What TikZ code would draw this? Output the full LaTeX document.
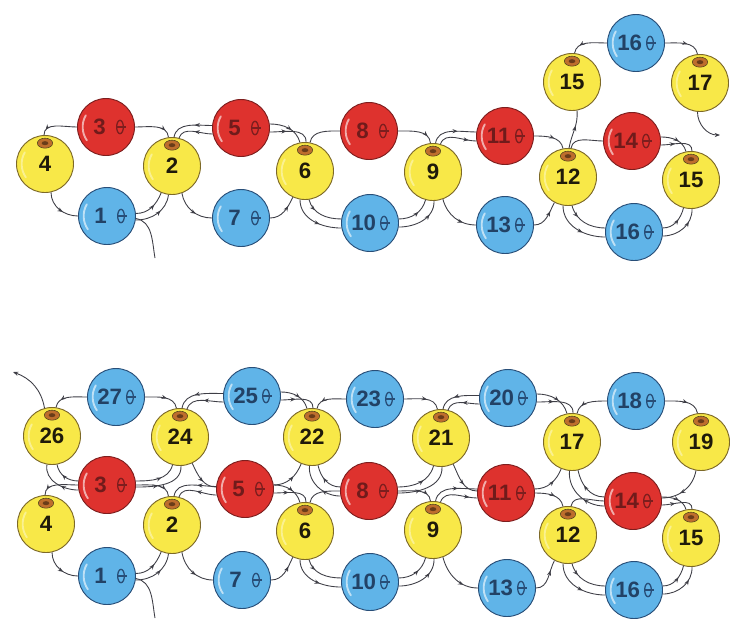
\documentclass[tikz,border=0pt]{standalone}
\usepackage{fontspec}
\setmainfont{Liberation Sans}
\usetikzlibrary{
  arrows.meta,
  calc,
  decorations.markings
}

\definecolor{beadyellow}{RGB}{248,232,72}
\definecolor{yellowedge}{RGB}{125,105,40}
\definecolor{beadred}{RGB}{222,50,46}
\definecolor{rededge}{RGB}{125,30,30}
\definecolor{beadblue}{RGB}{96,180,232}
\definecolor{blueedge}{RGB}{40,78,120}
\definecolor{holebrown}{RGB}{190,110,45}
\definecolor{threadgray}{RGB}{62,62,70}

\tikzset{
  bead/.style={circle, minimum size=1.71cm, inner sep=0pt, line width=.8pt,
    font=\fontsize{19}{20}\selectfont\bfseries},
  gloss/.style={white, opacity=.6, line width=1.6pt, line cap=round},
  ybead/.style={bead, fill=beadyellow, draw=yellowedge, text=black!75!yellowedge,
    path picture={
      \draw[gloss, opacity=.4] ([shift={(150:.7cm)}]path picture bounding box.center)
        arc [start angle=150, end angle=215, radius=.7cm];
      \filldraw[fill=holebrown, draw=yellowedge!70!black, line width=.5pt]
        ([yshift=-.23cm]path picture bounding box.north) ellipse [x radius=.23cm, y radius=.15cm];
      \fill[holebrown!55!black] ([yshift=-.23cm]path picture bounding box.north)
        ellipse [x radius=.1cm, y radius=.06cm];
    }},
  sidehole/.style={execute at end node={\hspace{.38cm}},
    path picture={
      \draw[gloss] ([shift={(150:.7cm)}]path picture bounding box.center)
        arc [start angle=150, end angle=215, radius=.7cm];
      \draw[#1, line width=1.1pt] ([xshift=.42cm]path picture bounding box.center)
        ellipse [x radius=.1cm, y radius=.2cm];
      \draw[#1, line width=1.1pt] ([xshift=.3cm]path picture bounding box.center)
        -- ([xshift=.6cm]path picture bounding box.center);
    }},
  rbead/.style={bead, fill=beadred, draw=rededge, text=rededge!90!black, sidehole=rededge},
  bbead/.style={bead, fill=beadblue, draw=blueedge, text=blueedge!85!black, sidehole=blueedge},
  thread/.style={draw=threadgray, line width=.75pt},
  arr/.style={postaction={decorate, decoration={markings,
    mark=at position #1 with {\arrow{Stealth[length=4.5pt, width=3.5pt]}}}}},
  arr/.default=.6
}

\begin{document}
\begin{tikzpicture}[x=0.03cm, y=0.03cm]
  \useasboundingbox (0,0) rectangle (738,-630);

  % first pattern
  \node[ybead] (a4)   at (45,-164)  {4};
  \node[rbead] (a3)   at (106,-127) {3};
  \node[ybead] (a2)   at (172,-166) {2};
  \node[bbead] (a1)   at (107,-216) {1};
  \node[rbead] (a5)   at (241,-128) {5};
  \node[bbead] (a7)   at (241,-218) {7};
  \node[ybead] (a6)   at (305,-171) {6};
  \node[rbead] (a8)   at (369,-131) {8};
  \node[bbead] (a10)  at (370,-223) {10};
  \node[ybead] (a9)   at (433,-172) {9};
  \node[rbead] (a11)  at (505,-136) {11};
  \node[bbead] (a13)  at (505,-225) {13};
  \node[ybead] (a12)  at (568,-177) {12};
  \node[rbead] (a14)  at (632,-141) {14};
  \node[bbead] (a16)  at (634,-232) {16};
  \node[ybead] (a15)  at (691,-180) {15};
  \node[ybead] (a15t) at (572,-82)  {15};
  \node[bbead] (a16t) at (636,-43)  {16};
  \node[ybead] (a17)  at (700,-83)  {17};

  % second pattern
  \node[ybead] (b4)  at (46,-524)  {4};
  \node[rbead] (b3)  at (107,-485) {3};
  \node[ybead] (b2)  at (172,-525) {2};
  \node[bbead] (b1)  at (107,-576) {1};
  \node[rbead] (b5)  at (245,-489) {5};
  \node[bbead] (b7)  at (242,-580) {7};
  \node[ybead] (b6)  at (305,-531) {6};
  \node[rbead] (b8)  at (369,-491) {8};
  \node[bbead] (b10) at (370,-582) {10};
  \node[ybead] (b9)  at (433,-530) {9};
  \node[rbead] (b11) at (506,-493) {11};
  \node[bbead] (b13) at (507,-588) {13};
  \node[ybead] (b12) at (568,-535) {12};
  \node[rbead] (b14) at (633,-501) {14};
  \node[bbead] (b16) at (634,-590) {16};
  \node[ybead] (b15) at (691,-538) {15};
  \node[ybead] (b26) at (52,-436)  {26};
  \node[bbead] (b27) at (116,-397) {27};
  \node[ybead] (b24) at (180,-437) {24};
  \node[bbead] (b25) at (252,-396) {25};
  \node[ybead] (b22) at (312,-437) {22};
  \node[bbead] (b23) at (375,-399) {23};
  \node[ybead] (b21) at (441,-438) {21};
  \node[bbead] (b20) at (508,-398) {20};
  \node[ybead] (b17) at (572,-442) {17};
  \node[bbead] (b18) at (636,-401) {18};
  \node[ybead] (b19) at (701,-442) {19};

  % thread through the first row, same in both
  \foreach \p in {a,b} {
    \coordinate (\p tail) at ($(\p1)+(48,-42)$);
    \draw[thread] (\p tail) to[out=100,in=-10] (\p1.-5);
    \draw[thread, arr] (\p1.5) to[out=0,in=-112] (\p2.-112);
    \draw[thread, arr] (\p1.-8) to[out=0,in=-97] (\p2.-97);
    \draw[thread, arr] (\p4.-78) to[out=-90,in=180] (\p1.180);
    \draw[thread, arr=.85] (\p3.180) to[out=180,in=90] (\p4.92);
    \draw[thread, arr=.8] (\p3.0) to[out=0,in=95] (\p2.97);
    \draw[thread, arr] (\p2.-70) to[out=-80,in=180] (\p7.180);
    \draw[thread, arr=.4] (\p5.175) to[out=180,in=80] (\p2.86);
    \draw[thread, arr=.5] (\p5.192) to[out=180,in=70] (\p2.76);
    \draw[thread, arr] (\p5.8) to[out=0,in=105] (\p6.100);
    \draw[thread, arr=.4] (\p5.-8) to[out=0,in=88] (\p6.88);
    \draw[thread, arr=.7] (\p7.0) to[out=0,in=-115] (\p6.-115);
    \draw[thread] (\p6.80) to[out=80,in=180] (\p8.180);
    \draw[thread, arr] (\p6.-100) to[out=-90,in=180] (\p10.190);
    \draw[thread, arr=.3] (\p6.-82) to[out=-75,in=180] (\p10.172);
    \draw[thread, arr=.8] (\p8.0) to[out=0,in=95] (\p9.95);
    \draw[thread, arr] (\p10.8) to[out=0,in=-105] (\p9.-105);
    \draw[thread, arr=.7] (\p10.-8) to[out=0,in=-88] (\p9.-88);
    \draw[thread, arr] (\p9.85) to[out=80,in=180] (\p11.172);
    \draw[thread, arr=.8] (\p9.75) to[out=70,in=180] (\p11.190);
    \draw[thread, arr=.7] (\p9.-70) to[out=-75,in=180] (\p13.180);
    \draw[thread, arr] (\p11.0) to[out=0,in=100] (\p12.100);
    \draw[thread, arr=.7] (\p13.0) to[out=0,in=-118] (\p12.-118);
    \draw[thread] (\p14.180) to[out=180,in=80] (\p12.84);
    \draw[thread, arr] (\p12.-100) to[out=-90,in=180] (\p16.190);
    \draw[thread, arr=.3] (\p12.-82) to[out=-75,in=180] (\p16.172);
    \draw[thread, arr] (\p16.8) to[out=0,in=-105] (\p15.-105);
    \draw[thread, arr=.7] (\p16.-8) to[out=0,in=-88] (\p15.-88);
    \draw[thread, arr] (\p14.8) to[out=0,in=105] (\p15.100);
    \draw[thread, arr=.4] (\p14.-8) to[out=0,in=88] (\p15.88);
  }

  % end of the first pattern
  \coordinate (atail) at ($(a17)+(20,-52)$);
  \draw[thread, arr] (a12.88) to[out=80,in=-85] (a15t.-80);
  \draw[thread, arr=.75] (a16t.180) to[out=180,in=80] (a15t.85);
  \draw[thread, arr=.6] (a16t.0) to[out=0,in=100] (a17.95);
  \draw[thread, -{Stealth[length=4.5pt, width=3.5pt]}] (a17.-95) to[out=-90,in=180] (atail);

  % second row of the second pattern
  \coordinate (btail) at ($(b26)+(-39,64)$);
  \draw[thread, -{Stealth[length=4.5pt, width=3.5pt]}] (b26.105) to[out=100,in=-20] (btail);
  \draw[thread, arr=.75] (b27.180) to[out=180,in=80] (b26.82);
  \draw[thread, arr=.6] (b27.0) to[out=0,in=100] (b24.97);
  \draw[thread, arr] (b25.175) to[out=180,in=80] (b24.86);
  \draw[thread, arr=.5] (b25.192) to[out=180,in=70] (b24.76);
  \draw[thread, arr] (b25.8) to[out=0,in=105] (b22.100);
  \draw[thread, arr=.4] (b25.-8) to[out=0,in=88] (b22.88);
  \draw[thread, arr=.75] (b23.180) to[out=180,in=80] (b22.80);
  \draw[thread, arr=.6] (b23.0) to[out=0,in=100] (b21.97);
  \draw[thread, arr] (b20.175) to[out=180,in=80] (b21.86);
  \draw[thread, arr=.5] (b20.192) to[out=180,in=70] (b21.76);
  \draw[thread, arr] (b20.8) to[out=0,in=105] (b17.100);
  \draw[thread, arr=.4] (b20.-8) to[out=0,in=88] (b17.88);
  \draw[thread, arr=.75] (b18.180) to[out=180,in=80] (b17.80);
  \draw[thread, arr=.6] (b18.0) to[out=0,in=100] (b19.97);

  % joins between the rows
  \draw[thread, arr] (b3.172) to[out=180,in=-80] (b26.-80);
  \draw[thread, arr=.4] (b3.190) to[out=180,in=-100] (b26.-100);
  \draw[thread, arr] (b3.8) to[out=0,in=-105] (b24.-105);
  \draw[thread, arr=.4] (b3.-4) to[out=0,in=-88] (b24.-88);
  \draw[thread, arr=.6] (b24.-65) to[out=-65,in=180] (b5.176);
  \draw[thread, arr=.6] (b5.8) to[out=0,in=-112] (b22.-112);
  \draw[thread, arr] (b8.172) to[out=180,in=-78] (b22.-78);
  \draw[thread, arr=.4] (b8.190) to[out=180,in=-95] (b22.-95);
  \draw[thread, arr] (b8.8) to[out=0,in=-105] (b21.-105);
  \draw[thread, arr=.4] (b8.-4) to[out=0,in=-88] (b21.-88);
  \draw[thread, arr=.6] (b21.-65) to[out=-65,in=180] (b11.176);
  \draw[thread, arr=.6] (b11.8) to[out=0,in=-112] (b17.-112);
  \draw[thread, arr] (b14.172) to[out=180,in=-78] (b17.-78);
  \draw[thread, arr=.4] (b14.190) to[out=180,in=-95] (b17.-95);
  \draw[thread, arr=.6] (b19.-100) to[out=-100,in=0] (b14.6);
\end{tikzpicture}
\end{document}
